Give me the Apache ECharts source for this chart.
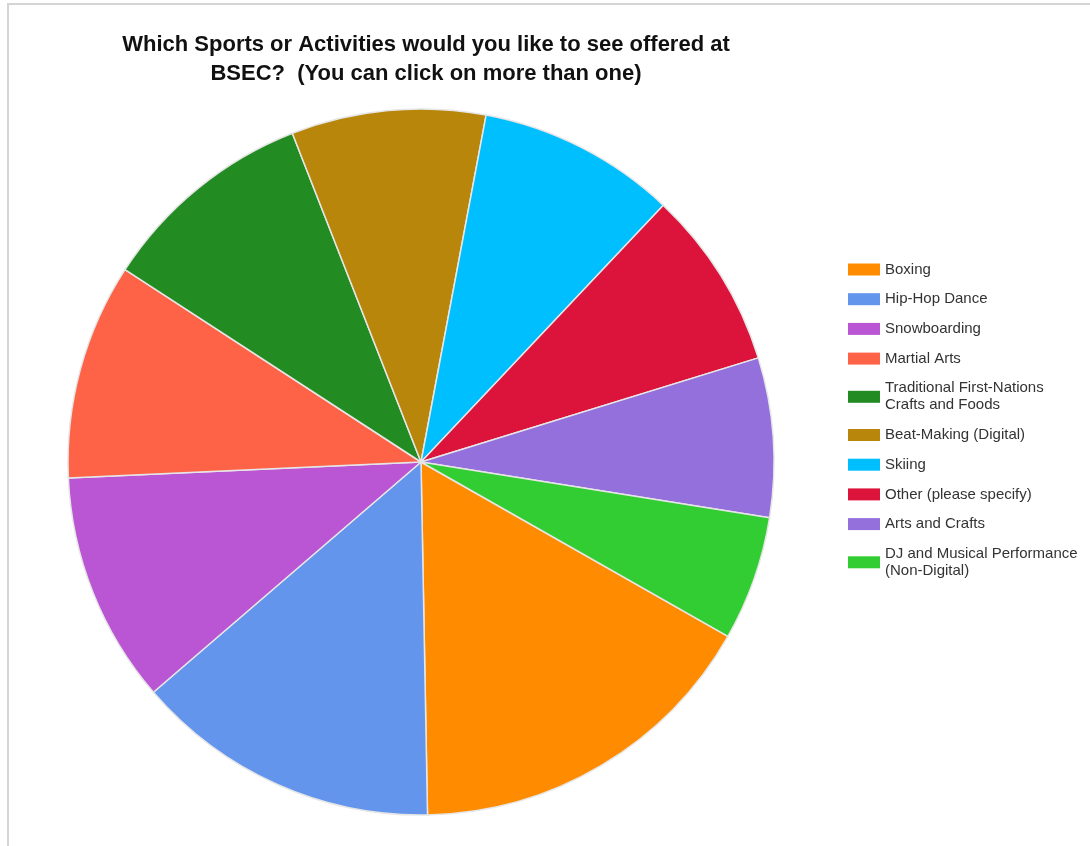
<!DOCTYPE html>
<html>
<head>
<meta charset="utf-8">
<script src="https://cdn.jsdelivr.net/npm/echarts@6/dist/echarts.min.js"></script>
<style>
  html, body { margin: 0; padding: 0; background: #fff; }
  #chart { width: 1090px; height: 846px; }
</style>
</head>
<body>
<div id="chart"></div>
<script>
// survey answers, share of responses (%)
const categories = [
  "Boxing",
  "Hip-Hop Dance",
  "Snowboarding",
  "Martial Arts",
  "Traditional First-Nations\nCrafts and Foods",
  "Beat-Making (Digital)",
  "Skiing",
  "Other (please specify)",
  "Arts and Crafts",
  "DJ and Musical Performance\n(Non-Digital)",
];
const shares = [16.5, 14.0, 10.6, 9.9, 9.9, 8.9, 9.1, 8.2, 7.3, 5.7];
const colors = [
  "#FF8C00", "#6495ED", "#BA55D3", "#FF6347", "#228B22",
  "#B8860B", "#00BFFF", "#DC143C", "#9370DB", "#32CD32",
];

const chart = echarts.init(document.getElementById("chart"));

chart.setOption({
  animation: false,
  color: colors,
  title: {
    text: "Which Sports or Activities would you like to see offered at\nBSEC?  (You can click on more than one)",
    left: 421,
    textAlign: "center",
    top: 25,
    textStyle: {
      fontFamily: "Liberation Sans, Arial, sans-serif",
      fontWeight: "bold",
      fontSize: 22,
      lineHeight: 29,
      color: "#111",
    },
  },
  legend: {
    orient: "vertical",
    left: 843,
    top: 256,
    itemWidth: 32,
    itemHeight: 12,
    itemGap: 12.7,
    icon: "rect",
    itemStyle: { borderWidth: 0 },
    textStyle: {
      fontFamily: "Liberation Sans, Arial, sans-serif",
      fontSize: 15,
      lineHeight: 17,
      color: "#333",
    },
    data: categories,
  },
  graphic: [
    {
      type: "polyline",
      shape: { points: [[8, 846], [8, 4], [1090, 4]] },
      style: { stroke: "#d4d4d4", lineWidth: 2, fill: null },
      silent: true,
    },
  ],
  series: [
    {
      type: "pie",
      center: [421, 462],
      radius: 353,
      startAngle: -29.6,
      clockwise: true,
      label: { show: false },
      labelLine: { show: false },
      emphasis: { disabled: true },
      itemStyle: { borderColor: "#e6e6e6", borderWidth: 1.5 },
      data: categories.map((name, i) => ({ name, value: shares[i] })),
    },
  ],
});
</script>
</body>
</html>
